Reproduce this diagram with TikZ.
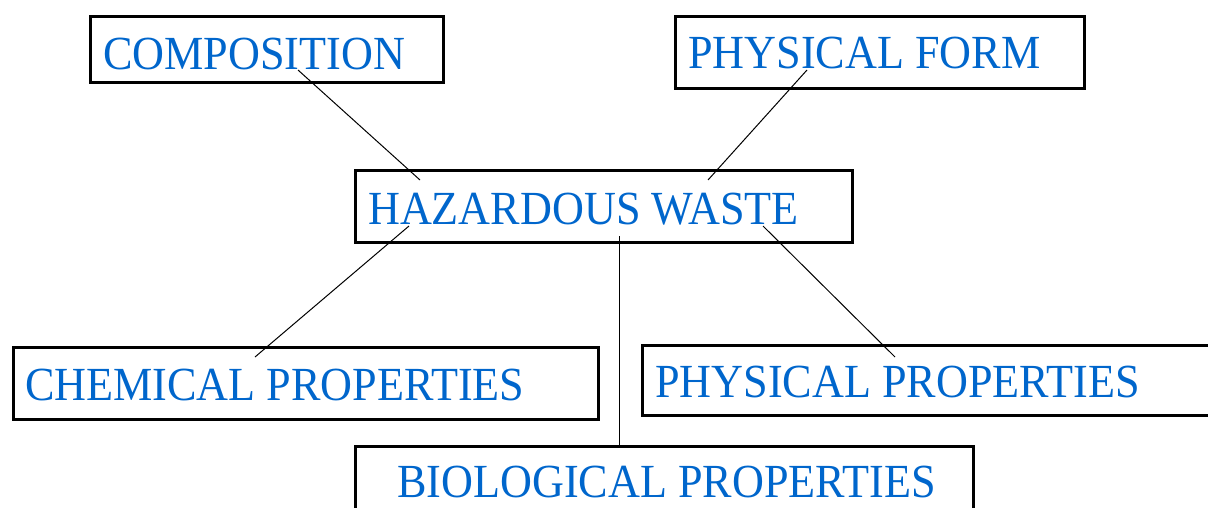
\documentclass[tikz,border=0pt]{standalone}
\usepackage{fontspec}
\usepackage{tikz}
\usepackage{xcolor}
\usetikzlibrary{positioning}
\newfontfamily\boxfont[FakeStretch=0.93]{Liberation Serif}
\definecolor{wasteblue}{RGB}{0,102,204}

\begin{document}
\begin{tikzpicture}[x=1pt, y=-1pt,
  box/.style={draw, line width=2.6pt, anchor=north west, inner sep=0pt},
  lbl/.style={anchor=base west, inner sep=0pt, text=wasteblue,
    font=\boxfont\fontsize{47.5}{50}\selectfont},
  link/.style={line width=1pt}]

  \useasboundingbox (0,0) rectangle (1208,507);

%%%%%%%%%%%% Boxes
  \node[box, minimum width=353, minimum height=66] (comp) at (89,15) {};
  \node[box, minimum width=409, minimum height=72] (pform) at (674,15) {};
  \node[box, minimum width=497, minimum height=72] (hw) at (354,169) {};
  \node[box, minimum width=585, minimum height=72] (chem) at (12,346) {};
  \node[box, minimum width=580, minimum height=70] (pprop) at (641,344) {};
  \node[box, minimum width=618, minimum height=80] (bio) at (354,445) {};

%%%%%%%%%%%% Texts
  \node[lbl] (comp-t) at (103,69) {COMPOSITION};
  \node[lbl] (pform-t) at (688,68) {PHYSICAL FORM};
  \node[lbl] (hw-t) at (368,224) {HAZARDOUS WASTE};
  \node[lbl] (chem-t) at (25,400) {CHEMICAL PROPERTIES};
  \node[lbl] (pprop-t) at (655,397) {PHYSICAL PROPERTIES};
  \node[lbl] (bio-t) at (397,497) {BIOLOGICAL PROPERTIES};

%%%%%%%%%%%% Links
  \coordinate (comp-s) at (298,70);
  \coordinate (pform-s) at (807,70);
  \coordinate (hw-nw) at (420,180);
  \coordinate (hw-ne) at (708,180);
  \coordinate (hw-sw) at (409,226);
  \coordinate (hw-se) at (763,226);
  \coordinate (hw-s) at (619,236);
  \coordinate (chem-n) at (255,357);
  \coordinate (pprop-n) at (895,357);

  \draw[link] (comp-s) -- (hw-nw);
  \draw[link] (pform-s) -- (hw-ne);
  \draw[link] (hw-sw) -- (chem-n);
  \draw[link] (hw-se) -- (pprop-n);
  \draw[link] (hw-s) -- (bio.north -| hw-s);
\end{tikzpicture}
\end{document}
